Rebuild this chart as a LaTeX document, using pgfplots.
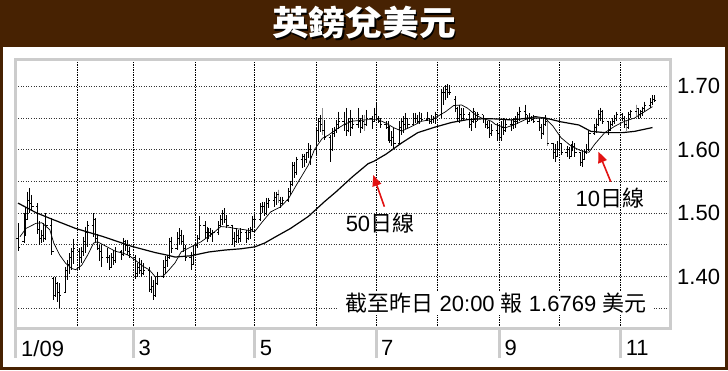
\documentclass[border=0pt]{standalone}
\usepackage{fontspec}
\setmainfont{Liberation Sans}
\newfontfamily\cjk{Noto Sans CJK TC}
\usepackage{pgfplots}
\pgfplotsset{compat=1.18}
\usepackage{pgfplotstable}
\usetikzlibrary{arrows.meta}
\definecolor{titlebrown}{RGB}{71,34,2}
\definecolor{framegray}{RGB}{204,204,204}
\definecolor{arrowred}{RGB}{226,18,18}

\pgfdeclareplotmark{ohlco}{\pgfpathmoveto{\pgfqpoint{-1.7pt}{0pt}}\pgfpathlineto{\pgfqpoint{0pt}{0pt}}\pgfusepathqstroke}
\pgfdeclareplotmark{ohlcc}{\pgfpathmoveto{\pgfqpoint{0pt}{0pt}}\pgfpathlineto{\pgfqpoint{1.7pt}{0pt}}\pgfusepathqstroke}

% day of 2009 (Jan 1 = 0), open, high, low, close
\pgfplotstableread{
d o h l c
1 1.460 1.484 1.440 1.446
4 1.455 1.500 1.453 1.465
5 1.468 1.510 1.466 1.490
6 1.490 1.534 1.489 1.520
7 1.520 1.539 1.500 1.515
8 1.515 1.529 1.503 1.510
11 1.510 1.516 1.468 1.475
12 1.475 1.487 1.450 1.460
13 1.460 1.474 1.453 1.465
14 1.465 1.484 1.455 1.460
15 1.460 1.500 1.458 1.480
18 1.480 1.492 1.434 1.440
19 1.398 1.400 1.363 1.370
20 1.370 1.400 1.368 1.390
21 1.390 1.392 1.360 1.375
22 1.375 1.390 1.351 1.370
25 1.375 1.416 1.374 1.410
26 1.410 1.426 1.395 1.420
27 1.420 1.437 1.405 1.430
28 1.430 1.445 1.410 1.440
29 1.440 1.460 1.420 1.445
32 1.440 1.445 1.411 1.430
33 1.430 1.447 1.421 1.440
34 1.440 1.463 1.432 1.455
35 1.455 1.479 1.437 1.470
36 1.470 1.487 1.447 1.480
39 1.480 1.500 1.463 1.490
40 1.490 1.492 1.455 1.460
41 1.460 1.468 1.442 1.445
42 1.445 1.450 1.424 1.440
43 1.440 1.450 1.416 1.430
46 1.430 1.445 1.421 1.430
47 1.430 1.434 1.411 1.415
48 1.415 1.437 1.413 1.430
49 1.430 1.442 1.418 1.425
50 1.425 1.447 1.421 1.440
53 1.440 1.442 1.426 1.435
54 1.435 1.461 1.432 1.455
55 1.455 1.458 1.440 1.450
56 1.450 1.458 1.434 1.440
57 1.440 1.447 1.429 1.435
60 1.430 1.434 1.397 1.405
61 1.405 1.421 1.400 1.415
62 1.415 1.429 1.405 1.410
63 1.410 1.426 1.400 1.405
64 1.405 1.421 1.403 1.410
67 1.410 1.416 1.376 1.380
68 1.380 1.400 1.374 1.385
69 1.385 1.395 1.363 1.370
70 1.370 1.400 1.368 1.390
71 1.390 1.408 1.387 1.400
74 1.400 1.426 1.398 1.415
75 1.415 1.432 1.405 1.425
76 1.425 1.432 1.416 1.430
77 1.430 1.461 1.428 1.455
78 1.455 1.463 1.437 1.445
81 1.445 1.470 1.442 1.460
82 1.460 1.476 1.450 1.465
83 1.465 1.474 1.450 1.455
84 1.455 1.466 1.439 1.445
85 1.445 1.450 1.424 1.430
88 1.430 1.439 1.410 1.420
89 1.420 1.450 1.418 1.435
90 1.435 1.455 1.434 1.450
91 1.450 1.466 1.445 1.460
92 1.460 1.495 1.458 1.480
95 1.480 1.487 1.460 1.470
96 1.470 1.479 1.455 1.465
97 1.465 1.476 1.460 1.470
98 1.470 1.476 1.463 1.468
99 1.468 1.474 1.455 1.470
102 1.470 1.487 1.466 1.480
103 1.480 1.497 1.478 1.490
104 1.490 1.505 1.482 1.500
105 1.500 1.508 1.484 1.490
106 1.490 1.497 1.476 1.480
109 1.480 1.482 1.450 1.460
110 1.460 1.471 1.447 1.455
111 1.455 1.476 1.453 1.465
112 1.465 1.474 1.453 1.460
113 1.460 1.476 1.455 1.470
116 1.470 1.474 1.453 1.460
117 1.460 1.476 1.458 1.470
118 1.470 1.479 1.460 1.475
119 1.475 1.495 1.471 1.490
120 1.490 1.497 1.479 1.490
123 1.490 1.516 1.488 1.510
124 1.510 1.518 1.500 1.510
125 1.510 1.518 1.495 1.500
126 1.500 1.524 1.498 1.515
127 1.515 1.524 1.508 1.520
130 1.520 1.534 1.510 1.525
131 1.525 1.534 1.513 1.530
132 1.530 1.537 1.516 1.520
133 1.520 1.526 1.508 1.515
134 1.515 1.526 1.513 1.520
137 1.520 1.539 1.518 1.535
138 1.535 1.550 1.529 1.545
139 1.545 1.581 1.543 1.575
140 1.575 1.581 1.555 1.565
141 1.565 1.589 1.560 1.585
144 1.585 1.594 1.571 1.590
145 1.590 1.594 1.573 1.585
146 1.585 1.597 1.579 1.595
147 1.595 1.610 1.587 1.600
148 1.600 1.608 1.576 1.590
151 1.600 1.636 1.594 1.630
152 1.630 1.650 1.613 1.645
153 1.645 1.655 1.628 1.640
154 1.640 1.665 1.623 1.630
155 1.630 1.647 1.615 1.620
158 1.620 1.623 1.581 1.600
159 1.600 1.634 1.598 1.625
160 1.625 1.636 1.620 1.630
161 1.630 1.647 1.626 1.640
162 1.640 1.660 1.632 1.645
165 1.645 1.660 1.629 1.640
166 1.640 1.666 1.622 1.630
167 1.630 1.650 1.628 1.645
168 1.645 1.663 1.622 1.635
169 1.635 1.650 1.632 1.640
172 1.640 1.666 1.635 1.645
173 1.645 1.650 1.627 1.635
174 1.635 1.655 1.633 1.645
175 1.645 1.655 1.629 1.640
176 1.640 1.663 1.638 1.650
179 1.650 1.653 1.632 1.645
180 1.645 1.666 1.643 1.655
181 1.655 1.676 1.645 1.650
182 1.650 1.653 1.642 1.645
183 1.645 1.650 1.635 1.640
186 1.640 1.645 1.632 1.635
187 1.635 1.645 1.614 1.620
188 1.620 1.637 1.611 1.615
189 1.615 1.629 1.606 1.620
190 1.620 1.635 1.601 1.610
193 1.610 1.645 1.608 1.635
194 1.635 1.650 1.624 1.645
195 1.645 1.653 1.627 1.640
196 1.640 1.658 1.632 1.650
197 1.650 1.650 1.635 1.640
200 1.640 1.658 1.638 1.650
201 1.650 1.658 1.642 1.650
202 1.650 1.655 1.642 1.645
203 1.645 1.660 1.640 1.650
204 1.650 1.658 1.645 1.648
207 1.648 1.660 1.645 1.650
208 1.650 1.650 1.640 1.645
209 1.645 1.655 1.640 1.648
210 1.648 1.653 1.642 1.650
211 1.650 1.660 1.640 1.655
214 1.655 1.696 1.650 1.690
215 1.690 1.699 1.671 1.690
216 1.690 1.702 1.678 1.695
217 1.695 1.703 1.681 1.690
218 1.690 1.702 1.686 1.690
221 1.680 1.684 1.660 1.665
222 1.665 1.668 1.645 1.650
223 1.650 1.671 1.642 1.655
224 1.655 1.666 1.645 1.650
225 1.650 1.666 1.647 1.655
228 1.655 1.660 1.635 1.640
229 1.640 1.650 1.629 1.645
230 1.645 1.666 1.642 1.660
231 1.660 1.660 1.635 1.645
232 1.645 1.660 1.645 1.655
235 1.655 1.655 1.642 1.650
236 1.650 1.650 1.635 1.640
237 1.640 1.645 1.632 1.635
238 1.635 1.645 1.619 1.625
239 1.625 1.640 1.622 1.630
242 1.630 1.642 1.614 1.625
243 1.625 1.640 1.617 1.620
244 1.620 1.645 1.614 1.635
245 1.635 1.650 1.624 1.630
246 1.630 1.647 1.628 1.640
249 1.640 1.647 1.629 1.640
250 1.640 1.650 1.632 1.645
251 1.645 1.653 1.635 1.645
252 1.645 1.660 1.640 1.655
253 1.655 1.668 1.645 1.660
256 1.660 1.671 1.648 1.655
257 1.655 1.655 1.640 1.645
258 1.645 1.658 1.643 1.650
259 1.650 1.653 1.645 1.648
260 1.648 1.655 1.642 1.645
263 1.645 1.648 1.630 1.635
264 1.635 1.640 1.617 1.625
265 1.625 1.650 1.624 1.640
266 1.640 1.655 1.638 1.645
267 1.645 1.650 1.606 1.610
270 1.610 1.611 1.586 1.595
271 1.595 1.609 1.580 1.590
272 1.590 1.614 1.588 1.600
273 1.600 1.622 1.598 1.610
274 1.610 1.610 1.591 1.595
277 1.595 1.606 1.588 1.600
278 1.600 1.604 1.586 1.590
279 1.590 1.609 1.588 1.600
280 1.600 1.614 1.598 1.605
281 1.605 1.611 1.588 1.595
284 1.595 1.596 1.575 1.580
285 1.580 1.599 1.573 1.585
286 1.585 1.601 1.584 1.595
287 1.595 1.609 1.593 1.600
288 1.600 1.629 1.598 1.625
291 1.625 1.640 1.624 1.635
292 1.635 1.648 1.627 1.640
293 1.640 1.663 1.637 1.655
294 1.655 1.666 1.645 1.660
295 1.660 1.663 1.640 1.645
298 1.645 1.645 1.624 1.630
299 1.630 1.645 1.629 1.640
300 1.640 1.650 1.637 1.645
301 1.645 1.655 1.640 1.650
302 1.650 1.660 1.645 1.655
305 1.655 1.658 1.645 1.650
306 1.650 1.653 1.635 1.640
307 1.640 1.645 1.629 1.635
308 1.635 1.660 1.633 1.655
309 1.655 1.663 1.650 1.660
312 1.660 1.671 1.653 1.665
313 1.665 1.665 1.648 1.655
314 1.655 1.663 1.650 1.660
315 1.660 1.668 1.653 1.665
316 1.665 1.676 1.660 1.670
319 1.670 1.681 1.666 1.675
320 1.675 1.686 1.671 1.680
321 1.680 1.686 1.676 1.677
}\ohlc

% bars drawn in grey in the original
\pgfplotstableread{
d h l
132 1.537 1.516
154 1.665 1.623
175 1.655 1.629
267 1.650 1.606
307 1.645 1.629
312 1.671 1.653
}\greybars

% 50-day moving average
\pgfplotstableread{
d v
1 1.516
10 1.501
17 1.492
30 1.476
44 1.463
58 1.448
70 1.438
76 1.434
80 1.431
88 1.433
97 1.439
105 1.442
113 1.444
120 1.447
125 1.453
130 1.462
138 1.476
147 1.495
155 1.518
161 1.534
169 1.557
177 1.578
180 1.582
186 1.593
194 1.611
202 1.627
211 1.636
219 1.643
227 1.6475
236 1.649
242 1.6485
249 1.647
258 1.650
266 1.650
274 1.644
283 1.639
289 1.629
296 1.627
305 1.627
311 1.629
320 1.635
}\maL

% 10-day moving average
\pgfplotstableread{
d v
2 1.463
5 1.476
10 1.484
13 1.485
17 1.474
19 1.453
22 1.434
25 1.421
28 1.413
30 1.411
33 1.418
36 1.434
39 1.453
41 1.455
44 1.450
47 1.445
50 1.440
54 1.437
57 1.433
60 1.426
64 1.416
67 1.411
70 1.400
74 1.401
77 1.411
80 1.422
83 1.439
88 1.447
93 1.455
98 1.466
103 1.479
107 1.478
110 1.476
115 1.474
120 1.471
124 1.487
128 1.502
133 1.510
137 1.523
142 1.550
147 1.576
150 1.600
154 1.618
157 1.623
161 1.632
165 1.640
169 1.645
177 1.6475
182 1.6475
186 1.642
190 1.6346
194 1.6294
199 1.637
204 1.645
209 1.6475
212 1.6526
216 1.660
220 1.6696
224 1.6706
227 1.6655
231 1.655
234 1.650
239 1.645
241 1.640
246 1.6346
251 1.640
256 1.6475
261 1.6526
266 1.650
270 1.637
274 1.619
279 1.606
284 1.5985
288 1.596
291 1.609
296 1.627
301 1.637
306 1.645
311 1.650
316 1.660
320 1.668
}\maS

\begin{document}
\begin{tikzpicture}[x=1pt,y=1pt]
\useasboundingbox (0,0) rectangle (728,370);
\fill[titlebrown] (0,0) rectangle (728,370);
\fill[white] (3,3) rectangle (725,323);
\node[text=black, inner sep=0pt] at (365.5,345.5) {\scalebox{1.08}[1]{\fontsize{34}{34}\selectfont\cjk\bfseries 英鎊兌美元}};
\node[text=white, inner sep=0pt] at (364,347) {\scalebox{1.08}[1]{\fontsize{34}{34}\selectfont\cjk\bfseries 英鎊兌美元}};
\begin{axis}[
  at={(16pt,42pt)}, anchor=south west,
  scale only axis, width=654pt, height=268pt,
  xmin=0, xmax=328.8, ymin=1.3192, ymax=1.7414,
  enlargelimits=false,
  axis line style={draw=framegray, line width=3pt},
  xtick={0,59,120,181,243,304},
  xticklabels={1/09,3,5,7,9,11},
  minor xtick={31,90,151,212,273},
  ytick={1.40,1.50,1.60,1.70},
  yticklabels={1.40,1.50,1.60,1.70},
  minor ytick={1.35,1.45,1.55,1.65},
  xmajorgrids, xminorgrids, ymajorgrids, yminorgrids,
  major x grid style={black, line width=1pt, dash pattern=on 1pt off 1pt on 2pt off 1pt},
  minor x grid style={black, line width=1pt, dash pattern=on 1pt off 1pt on 2pt off 1pt},
  major y grid style={black!80, line width=1pt, dash pattern=on 1pt off 1.5pt},
  minor y grid style={black!80, line width=1pt, dash pattern=on 1pt off 1.5pt},
  tick align=inside,
  major tick length=30pt, minor tick length=0pt,
  xtick pos=left, ytick pos=right, yticklabel pos=right,
  xtick style={draw=framegray, line width=3pt, yshift=-30pt},
  ytick style={draw=none},
  tick label style={font=\fontsize{22}{22}\selectfont},
  xticklabel style={anchor=north west, inner sep=0pt, xshift=5pt, yshift=-12pt},
  yticklabel style={anchor=west, inner sep=0pt, xshift=7pt},
  clip=false,
]
\addplot[draw=none, forget plot, error bars/.cd, y dir=minus, y explicit, error mark=none,
  error bar style={draw=black, line width=0.9pt, solid}]
  table[x=d, y=h, y error minus expr={\thisrow{h}-\thisrow{l}}] {\ohlc};
\addplot[draw=none, forget plot, error bars/.cd, y dir=minus, y explicit, error mark=none,
  error bar style={draw=black!45, line width=0.9pt, solid}]
  table[x=d, y=h, y error minus expr={\thisrow{h}-\thisrow{l}}] {\greybars};
\addplot[only marks, mark=ohlco, mark options={draw=black, line width=0.9pt}] table[x=d, y=o] {\ohlc};
\addplot[only marks, mark=ohlcc, mark options={draw=black, line width=0.9pt}] table[x=d, y=c] {\ohlc};
\addplot[black, line width=1.2pt] table[x=d, y=v] {\maL};
\addplot[black, line width=0.7pt] table[x=d, y=v] {\maS};

\draw[arrowred, line width=1.6pt, -{Triangle[length=11pt,width=9pt]}] (axis cs:185.2,1.5103) -- (axis cs:179.6,1.5603);
\draw[arrowred, line width=1.6pt, -{Triangle[length=11pt,width=9pt]}] (axis cs:299,1.5497) -- (axis cs:292.8,1.597);
\node[font=\fontsize{22}{22}\selectfont, inner sep=0pt] at (axis cs:183,1.4849) {50{\cjk 日線}};
\node[font=\fontsize{22}{22}\selectfont, inner sep=0pt] at (axis cs:298.6,1.524) {10{\cjk 日線}};
\node[font=\fontsize{22}{22}\selectfont, fill=white, inner xsep=8pt, inner ysep=2pt] at (axis cs:241.3,1.3586)
  {{\cjk 截至昨日} 20:00 {\cjk 報} 1.6769 {\cjk 美元}};
\end{axis}
\end{tikzpicture}
\end{document}
